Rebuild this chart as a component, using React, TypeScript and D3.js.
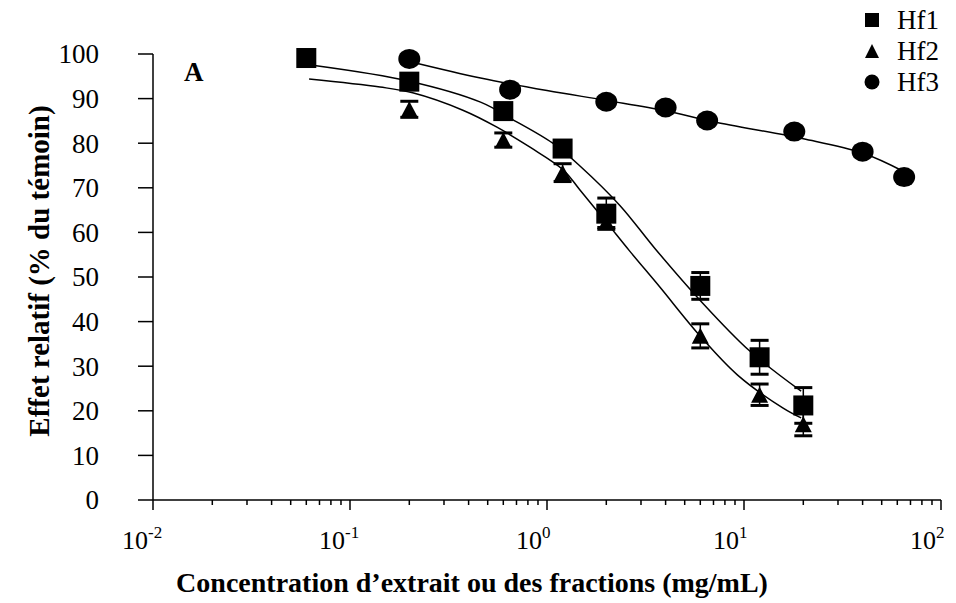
import React from "react";
import * as d3 from "d3";

// Measured points (concentration mg/mL, relative effect %)
const hf1Conc = [0.06, 0.2, 0.6, 1.2, 2, 6, 12, 20];
const hf1Val = [99.1, 93.8, 87.2, 78.8, 64.2, 48.0, 32.0, 21.2];
const hf1Err = [0, 0, 0, 0, 3.5, 3.0, 3.8, 4.0];

const hf2Conc = [0.2, 0.6, 1.2, 2, 6, 12, 20];
const hf2Val = [87.6, 80.7, 73.4, 62.3, 36.8, 23.6, 17.0];
const hf2Err = [1.8, 1.6, 2.0, 1.2, 2.7, 2.4, 2.6];

const hf3Conc = [0.2, 0.65, 2, 4, 6.5, 18, 40, 65];
const hf3Val = [98.9, 92.0, 89.3, 88.0, 85.1, 82.6, 78.1, 72.4];

// Fitted curves
const fit1Conc = [0.066, 0.2, 0.46, 0.67, 1.07, 1.47, 2.35, 3.53, 5.98, 10.7, 19.5];
const fit1Val = [97.4, 93.9, 89.2, 85.3, 80.0, 74.9, 66.0, 56.4, 44.8, 33.4, 24.4];

const fit2Conc = [0.062, 0.142, 0.208, 0.374, 0.557, 0.82, 1.21, 1.47, 2.0, 2.63, 3.73, 5.98, 9.28, 15.8, 19.5];
const fit2Val = [94.4, 92.6, 91.3, 87.4, 83.6, 79.1, 74.0, 69.5, 62.3, 55.8, 47.8, 36.8, 28.0, 20.6, 18.4];

const fit3Conc = [0.2, 0.46, 1.0, 2.0, 4.0, 7.0, 20, 40, 65];
const fit3Val = [98.3, 94.6, 91.8, 89.6, 87.3, 84.8, 81.0, 77.8, 73.6];

const yTicks = [0, 10, 20, 30, 40, 50, 60, 70, 80, 90, 100];
const xDecades = [-2, -1, 0, 1, 2];
const legendNames = ["Hf1", "Hf2", "Hf3"];

const yTitle = "Effet relatif (% du témoin)";
const xTitle = "Concentration d\u2019extrait ou des fractions (mg/mL)";
const panelLabel = "A";

const FONT = "'Liberation Serif', 'Times New Roman', serif";

export default function App() {
  const W = 956, H = 603;
  const x = d3.scaleLog().domain([0.01, 100]).range([153, 941]);
  const y = d3.scaleLinear().domain([0, 100]).range([500, 54]);

  const line = d3
    .line<[number, number]>()
    .x((d) => x(d[0]))
    .y((d) => y(d[1]))
    .curve(d3.curveCatmullRom.alpha(0.5));

  const zip = (a: number[], b: number[]) => a.map((v, i) => [v, b[i]] as [number, number]);

  const minorTicks: number[] = [];
  for (let k = -2; k < 2; k++) {
    for (let m = 2; m <= 9; m++) minorTicks.push(m * Math.pow(10, k));
  }

  const square = (cx: number, cy: number, key: string) => (
    <rect key={key} x={cx - 10} y={cy - 10} width={20} height={20} fill="#000" />
  );
  const tri = (cx: number, cy: number, key: string) => (
    <path key={key} d={`M${cx},${cy - 8} L${cx + 8.5},${cy + 8} L${cx - 8.5},${cy + 8} Z`} fill="#000" />
  );
  const circ = (cx: number, cy: number, key: string) => (
    <ellipse key={key} cx={cx} cy={cy} rx={11} ry={10} fill="#000" />
  );

  const errBars = (conc: number[], val: number[], err: number[], pre: string) =>
    conc.map((c, i) =>
      err[i] > 0 ? (
        <g key={pre + i} stroke="#000" strokeWidth={3}>
          <line x1={x(c)} x2={x(c)} y1={y(val[i] - err[i])} y2={y(val[i] + err[i])} strokeWidth={1.5} />
          <line x1={x(c) - 9} x2={x(c) + 9} y1={y(val[i] + err[i])} y2={y(val[i] + err[i])} />
          <line x1={x(c) - 9} x2={x(c) + 9} y1={y(val[i] - err[i])} y2={y(val[i] - err[i])} />
        </g>
      ) : null
    );

  return (
    <svg width={W} height={H} style={{ position: "absolute", left: 0, top: 0, background: "#fff" }} fontFamily={FONT}>
      <rect width={W} height={H} fill="#fff" />
      {/* axes */}
      <line x1={x(0.01)} x2={x(0.01)} y1={y(100)} y2={y(0)} stroke="#000" strokeWidth={1.5} />
      <line x1={x(0.01)} x2={x(100)} y1={y(0)} y2={y(0)} stroke="#000" strokeWidth={1.5} />
      {yTicks.map((t) => (
        <g key={"yt" + t}>
          <line x1={x(0.01) - 15} x2={x(0.01)} y1={y(t)} y2={y(t)} stroke="#000" strokeWidth={1.5} />
          <text x={99} y={y(t)} dy="0.35em" textAnchor="end" fontSize={27}>
            {t}
          </text>
        </g>
      ))}
      {xDecades.map((k) => (
        <g key={"xd" + k}>
          <line x1={x(Math.pow(10, k))} x2={x(Math.pow(10, k))} y1={y(0)} y2={y(0) + 10} stroke="#000" strokeWidth={1.5} />
          <text x={x(Math.pow(10, k)) - 31} y={549} textAnchor="start" fontSize={26}>
            10
            <tspan fontSize={17} dy={-11}>
              {k}
            </tspan>
          </text>
        </g>
      ))}
      {minorTicks.map((t, i) => (
        <line key={"mt" + i} x1={x(t)} x2={x(t)} y1={y(0)} y2={y(0) + 5} stroke="#000" strokeWidth={1.5} />
      ))}

      {/* titles */}
      <text
        transform={`translate(39, 271) rotate(-90)`}
        textAnchor="middle"
        fontSize={29}
        fontWeight="bold"
        dy="0.35em"
      >
        {yTitle}
      </text>
      <text x={472} y={592} textAnchor="middle" fontSize={28} fontWeight="bold">
        {xTitle}
      </text>
      <text x={184} y={81} fontSize={27} fontWeight="bold">
        {panelLabel}
      </text>

      {/* fitted curves */}
      <path d={line(zip(fit1Conc, fit1Val)) || ""} fill="none" stroke="#000" strokeWidth={1.5} />
      <path d={line(zip(fit2Conc, fit2Val)) || ""} fill="none" stroke="#000" strokeWidth={1.5} />
      <path d={line(zip(fit3Conc, fit3Val)) || ""} fill="none" stroke="#000" strokeWidth={1.5} />

      {/* error bars */}
      {errBars(hf1Conc, hf1Val, hf1Err, "e1")}
      {errBars(hf2Conc, hf2Val, hf2Err, "e2")}

      {/* markers */}
      {hf1Conc.map((c, i) => square(x(c), y(hf1Val[i]), "s" + i))}
      {hf2Conc.map((c, i) => tri(x(c), y(hf2Val[i]), "t" + i))}
      {hf3Conc.map((c, i) => circ(x(c), y(hf3Val[i]), "c" + i))}

      {/* legend */}
      {legendNames.map((n, i) => {
        const ly = 20 + i * 31;
        const mx = 872;
        const mk = i === 0 ? (
          <rect x={mx - 7} y={ly - 7} width={14} height={14} fill="#000" />
        ) : i === 1 ? (
          <path d={`M${mx},${ly - 7} L${mx + 7},${ly + 7} L${mx - 7},${ly + 7} Z`} fill="#000" />
        ) : (
          <circle cx={mx} cy={ly} r={7.5} fill="#000" />
        );
        return (
          <g key={"lg" + n}>
            {mk}
            <text x={897} y={ly} dy="0.35em" fontSize={27}>
              {n}
            </text>
          </g>
        );
      })}
    </svg>
  );
}
